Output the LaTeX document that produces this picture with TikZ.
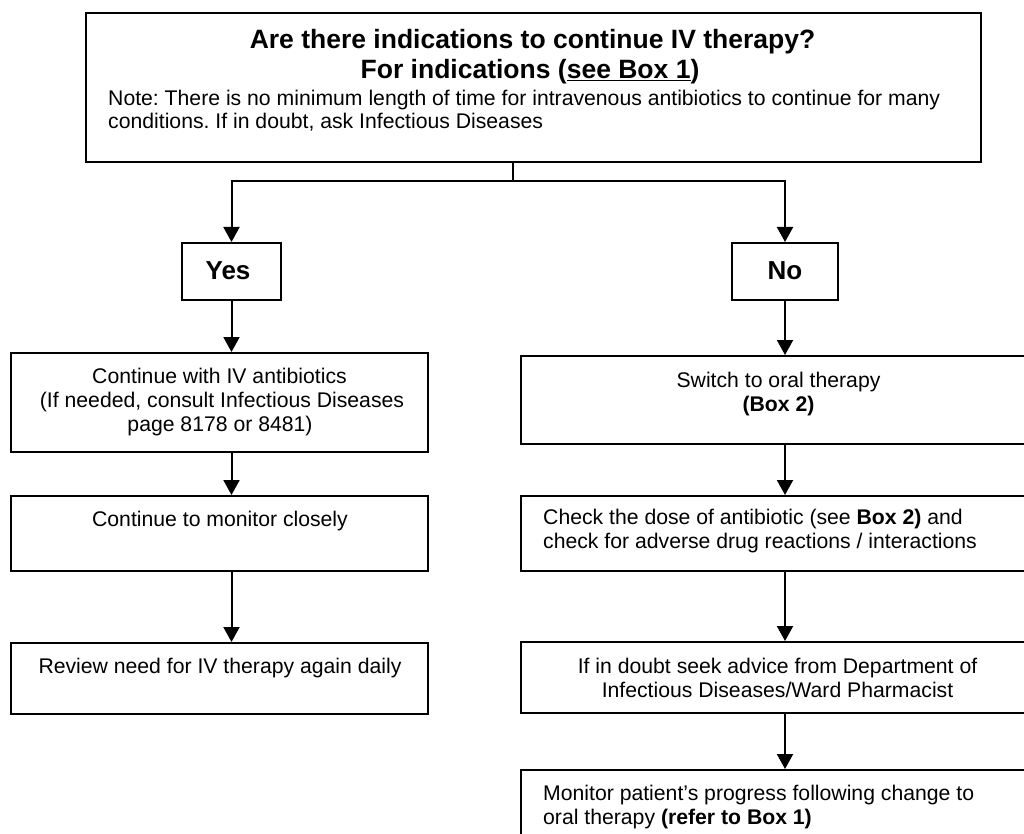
\documentclass[tikz,border=0pt]{standalone}
\usepackage{fontspec}
\setmainfont{Liberation Sans}
\usetikzlibrary{arrows.meta}
\frenchspacing
\tikzset{
  box/.style={draw=black, line width=2pt, rectangle, inner sep=0pt, fill=none},
  txt/.style={anchor=base, inner sep=0pt, font=\fontsize{21.2pt}{24.4pt}\selectfont\frenchspacing},
  txtl/.style={txt, anchor=base west},
  head/.style={anchor=base, inner sep=0pt, font=\fontsize{26.5pt}{30.5pt}\selectfont\bfseries},
  arr/.style={line width=2pt, -{Triangle[length=15pt,width=16pt]}},
  ln/.style={line width=2pt}
}
\begin{document}
\begin{tikzpicture}[x=1pt,y=-1pt]
\useasboundingbox (0,0) rectangle (1024,834);
\clip (0,0) rectangle (1024,834);
\fill[white] (0,0) rectangle (1024,834);
% boxes
\node[box, minimum width=895pt, minimum height=149pt] (top) at (533.5,87.5) {};
\node[box, minimum width=99pt, minimum height=57pt] (yes) at (231.5,271.5) {};
\node[box, minimum width=106pt, minimum height=57pt] (no) at (785,271.5) {};
\node[box, minimum width=417pt, minimum height=99pt] (iv) at (219.5,402.5) {};
\node[box, minimum width=417pt, minimum height=75pt] (mon) at (219.5,533.5) {};
\node[box, minimum width=417pt, minimum height=71pt] (rev) at (219.5,678.5) {};
\node[box, minimum width=519pt, minimum height=88pt] (sw) at (780.5,400) {};
\node[box, minimum width=519pt, minimum height=75pt] (chk) at (780.5,533.5) {};
\node[box, minimum width=519pt, minimum height=71pt] (dbt) at (780.5,677.5) {};
\node[box, minimum width=519pt, minimum height=100pt] (mp) at (780.5,820) {};
% texts
\node[head] (t1) at (532.5,49) {Are there indications to continue IV therapy?};
\node[head] (t2) at (530,79) {For indications (\underline{see Box 1})};
\node[txtl] (n1) at (108,106) {Note: There is no minimum length of time for intravenous antibiotics to continue for many};
\node[txtl] (n2) at (108,129) {conditions. If in doubt, ask Infectious Diseases};
\node[head, font=\fontsize{26pt}{30pt}\selectfont\bfseries] (yest) at (228,279) {Yes};
\node[head, font=\fontsize{26pt}{30pt}\selectfont\bfseries] (not) at (785,279) {No};
\node[txt] (iv1) at (219.5,383) {Continue with IV antibiotics};
\node[txt] (iv2) at (222,407) {(If needed, consult Infectious Diseases};
\node[txt] (iv3) at (220,431) {page 8178 or 8481)};
\node[txt] (mon1) at (220,526) {Continue to monitor closely};
\node[txt] (rev1) at (220,673) {Review need for IV therapy again daily};
\node[txt] (sw1) at (778.5,387) {Switch to oral therapy};
\node[txt] (sw2) at (778.5,411) {\textbf{(Box 2)}};
\node[txtl] (chk1) at (543,524) {Check the dose of antibiotic (see \textbf{Box 2)} and};
\node[txtl] (chk2) at (543,548) {check for adverse drug reactions / interactions};
\node[txt] (dbt1) at (777.5,673) {If in doubt seek advice from Department of};
\node[txt] (dbt2) at (777.5,697) {Infectious Diseases/Ward Pharmacist};
\node[txtl] (mp1) at (543,800) {Monitor patient’s progress following change to};
\node[txtl] (mp2) at (543,824) {oral therapy \textbf{(refer to Box 1)}};
% connectors
\coordinate (j) at (513,181);
\draw[ln] (top.south -| j) -- (j);
\draw[arr] (j) -| (yes.north);
\draw[arr] (j) -| (no.north);
\draw[arr] (yes.south) -- (yes.south |- iv.north);
\draw[arr] (yes.south |- iv.south) -- (yes.south |- mon.north);
\draw[arr] (yes.south |- mon.south) -- (yes.south |- rev.north);
\draw[arr] (no.south) -- (no.south |- sw.north);
\draw[arr] (no.south |- sw.south) -- (no.south |- chk.north);
\draw[arr] (no.south |- chk.south) -- (no.south |- dbt.north);
\draw[arr] (no.south |- dbt.south) -- (no.south |- mp.north);
\end{tikzpicture}
\end{document}
